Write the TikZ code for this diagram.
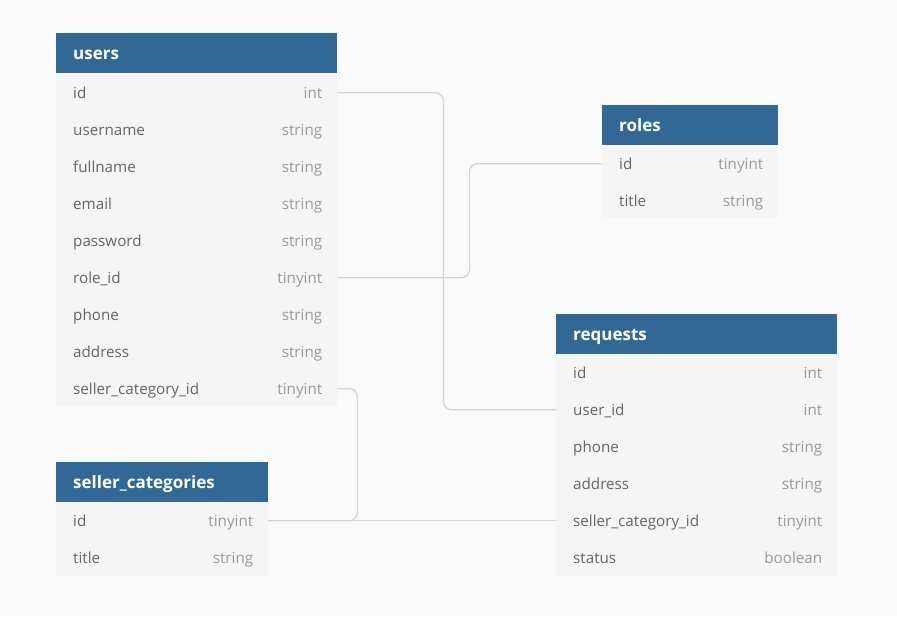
\documentclass[tikz,border=0pt]{standalone}
\usepackage{fontspec}
\setmainfont{Open Sans}
\definecolor{bgc}{HTML}{FAFAFA}
\definecolor{rowc}{HTML}{F5F5F5}
\definecolor{hdrc}{HTML}{316896}
\definecolor{fieldc}{HTML}{6A6462}
\definecolor{typec}{HTML}{9A9A9A}
\definecolor{linec}{HTML}{D4D4D4}
\tikzset{
  hdrbox/.style={fill=hdrc, anchor=north west, minimum height=40pt, inner sep=0pt},
  hdrtxt/.style={text=white, anchor=base west, font=\bfseries\fontsize{17}{19}\selectfont, inner sep=0pt},
  rowbox/.style={fill=rowc, anchor=north west, minimum height=37pt, inner sep=0pt},
  fieldtxt/.style={text=fieldc, anchor=base west, font=\fontsize{15.2}{17}\selectfont, inner sep=0pt},
  typetxt/.style={text=typec, anchor=base east, font=\fontsize{15.2}{17}\selectfont, inner sep=0pt},
  conn/.style={draw=linec, line width=1.3pt, rounded corners=8pt},
}
\newcommand\dbhdr[5]{%
  \node[hdrbox, minimum width=#4] (#1) at (#2,#3) {};
  \node[hdrtxt] (#1-l) at ([xshift=17pt,yshift=-6pt]#1.west) {#5};
}
\newcommand\dbrow[6]{%
  \node[rowbox, minimum width=#4] (#1) at (#2,#3) {};
  \node[fieldtxt] (#1-f) at ([xshift=17pt,yshift=-5.5pt]#1.west) {#5};
  \node[typetxt] (#1-t) at ([xshift=-15pt,yshift=-5.5pt]#1.east) {#6};
}
\begin{document}
\begin{tikzpicture}[x=1pt,y=-1pt]
\useasboundingbox[fill=bgc] (0,0) rectangle (897,616);
% users
\dbhdr{users}{56}{33}{281pt}{users}
\dbrow{u-id}{56}{74}{281pt}{id}{int}
\dbrow{u-username}{56}{111}{281pt}{username}{string}
\dbrow{u-fullname}{56}{148}{281pt}{fullname}{string}
\dbrow{u-email}{56}{185}{281pt}{email}{string}
\dbrow{u-password}{56}{222}{281pt}{password}{string}
\dbrow{u-roleid}{56}{259}{281pt}{role\_id}{tinyint}
\dbrow{u-phone}{56}{296}{281pt}{phone}{string}
\dbrow{u-address}{56}{333}{281pt}{address}{string}
\dbrow{u-scid}{56}{370}{281pt}{seller\_category\_id}{tinyint}
% roles
\dbhdr{roles}{602}{105}{176pt}{roles}
\dbrow{r-id}{602}{145}{176pt}{id}{tinyint}
\dbrow{r-title}{602}{182}{176pt}{title}{string}
% requests
\dbhdr{requests}{556}{314}{281pt}{requests}
\dbrow{q-id}{556}{354}{281pt}{id}{int}
\dbrow{q-userid}{556}{391}{281pt}{user\_id}{int}
\dbrow{q-phone}{556}{428}{281pt}{phone}{string}
\dbrow{q-address}{556}{465}{281pt}{address}{string}
\dbrow{q-scid}{556}{502}{281pt}{seller\_category\_id}{tinyint}
\dbrow{q-status}{556}{539}{281pt}{status}{boolean}
% seller_categories
\dbhdr{sc}{56}{462}{212pt}{seller\_categories}
\dbrow{s-id}{56}{502}{212pt}{id}{tinyint}
\dbrow{s-title}{56}{539}{212pt}{title}{string}
% connectors
\draw[conn] (u-id.east) -- ++(106,0) |- (q-userid.west);
\draw[conn] (u-roleid.east) -- ++(132,0) |- (r-id.west);
\draw[conn] (u-scid.east) -- ++(20,0) |- (s-id.east);
\draw[conn] (s-id.east) -- (q-scid.west);
\end{tikzpicture}
\end{document}
